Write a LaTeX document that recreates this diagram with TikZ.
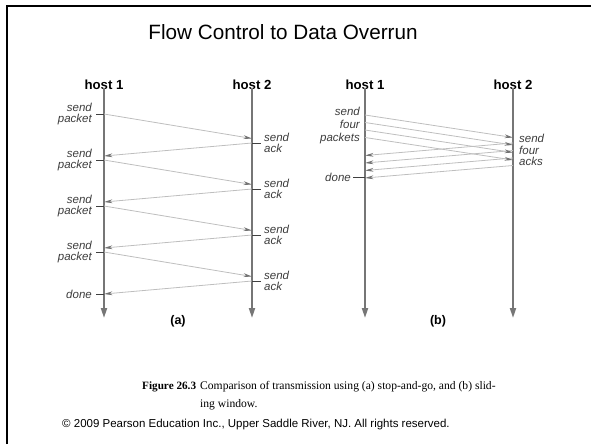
\documentclass[tikz,border=0pt]{standalone}
\usepackage{fontspec}
\setmainfont{Liberation Serif}
\setsansfont{Liberation Sans}
\usetikzlibrary{arrows.meta}

\definecolor{lifeline}{RGB}{118,118,118}
\definecolor{msgline}{RGB}{190,190,190}
\definecolor{msghead}{RGB}{115,115,115}
\definecolor{evtext}{RGB}{60,60,60}

\tikzset{
  lifeline/.style={draw=lifeline, line width=1.8pt,
    -{Triangle[length=10pt,width=6pt,color=lifeline]}},
  msg/.style={draw=msgline, line width=0.8pt,
    -{Stealth[length=8.5pt,width=3.8pt,color=msghead]}}
}

% one pair of hosts with their time lines
\newcommand{\hostpair}[3]{%
  \node[hostlabel] (#1host1) at (#2,85) {host 1};
  \node[hostlabel] (#1host2) at (#3,85) {host 2};
  \coordinate (#1end1) at (#2,318);
  \coordinate (#1end2) at (#3,318);
  \draw[lifeline] (#1host1.south) ++(0,-3) -- (#1end1);
  \draw[lifeline] (#1host2.south) ++(0,-3) -- (#1end2);%
}

\begin{document}
\begin{tikzpicture}[x=1pt,y=-1pt]

  % --- styles ---
  \tikzset{
    hostlabel/.style={font=\sffamily\bfseries\fontsize{13.2}{15}\selectfont, inner sep=1pt},
    evlabel/.style={font=\sffamily\itshape\fontsize{11.5}{11.7}\selectfont,
      text=evtext, inner sep=0pt},
    tickmark/.style={draw=black!75, line width=0.8pt},
    panel/.style={font=\sffamily\bfseries\fontsize{12.5}{14}\selectfont},
  }

  % --- page & frame ---
  \useasboundingbox (0,0) rectangle (591,444);
  \draw[line width=2.5pt] (7,444) -- (7,6) -- (591,6);

  \node[font=\sffamily\fontsize{20.7}{24}\selectfont] (title) at (283,32)
    {Flow Control to Data Overrun};

  % =========================
  %  (a) STOP-AND-GO
  % =========================

  \hostpair{a}{104}{252}

  \foreach \i in {0,...,3} {
    \pgfmathsetmacro{\ys}{114+46*\i}
    \coordinate (snd\i) at (104,\ys);
    \coordinate (rcv\i) at (252,\ys+24.5);
    \coordinate (ack\i) at (252,\ys+29);
    \coordinate (got\i) at (104,\ys+42);
    \draw[msg] (snd\i) -- (rcv\i);
    \draw[msg] (ack\i) -- (got\i);
    \draw[tickmark] (snd\i) -- ++(-8,0);
    \draw[tickmark] (ack\i) -- ++(9,0);
    \node[evlabel, anchor=east, align=right] (sp\i) at ([xshift=-12pt]snd\i)
      {send\\packet};
    \node[evlabel, anchor=west, align=left] (sa\i) at ([xshift=12pt]ack\i)
      {send\\ack};
  }
  \coordinate (adone) at (104,294);
  \draw[tickmark] (adone) -- ++(-8,0);
  \node[evlabel, anchor=east] (adonelbl) at ([xshift=-12pt]adone) {done};

  \node[panel] (pa) at (178,321) {(a)};

  % =========================
  %  (b) SLIDING WINDOW
  % =========================

  \hostpair{b}{365}{513}

  \foreach \i in {0,...,3} {
    \pgfmathsetmacro{\ys}{115+7.5*\i}
    \pgfmathsetmacro{\ya}{143+7.5*\i}
    \coordinate (wsnd\i) at (365,\ys);
    \coordinate (wrcv\i) at (513,\ys+22.5);
    \coordinate (wack\i) at (513,\ya);
    \coordinate (wgot\i) at (365,\ya+12.5);
    \draw[msg] (wsnd\i) -- (wrcv\i);
    \draw[msg] (wack\i) -- (wgot\i);
  }
  \node[evlabel, anchor=east, align=right,
    font=\sffamily\itshape\fontsize{11.5}{12.6}\selectfont] (wsp) at (360,125.5)
    {send\\four\\packets};
  \node[evlabel, anchor=west, align=left,
    font=\sffamily\itshape\fontsize{11.5}{11.7}\selectfont] (wsa) at (519,150)
    {send\\four\\acks};
  \coordinate (bdone) at (365,177.5);
  \draw[tickmark] (bdone) -- ++(-12,0);
  \node[evlabel, anchor=east] (bdonelbl) at ([xshift=-14pt]bdone) {done};

  \node[panel] (pb) at (438,321) {(b)};

  % --- caption & credit ---
  \node[font=\fontsize{11.2}{14}\selectfont, anchor=base west, inner sep=0pt]
    (fignum) at (142,389) {\textbf{Figure 26.3}};
  \node[font=\fontsize{11.6}{14}\selectfont, anchor=base west, inner sep=0pt]
    (cap1) at (200,389) {Comparison of transmission using (a) stop-and-go, and (b) slid-};
  \node[font=\fontsize{11.6}{14}\selectfont, anchor=base west, inner sep=0pt]
    (cap2) at (200,407) {ing window.};

  \node[font=\sffamily\fontsize{11.5}{14}\selectfont, anchor=west, inner sep=0pt]
    (credit) at (62,425)
    {\textcopyright{} 2009 Pearson Education Inc., Upper Saddle River, NJ. All rights reserved.};

\end{tikzpicture}
\end{document}
